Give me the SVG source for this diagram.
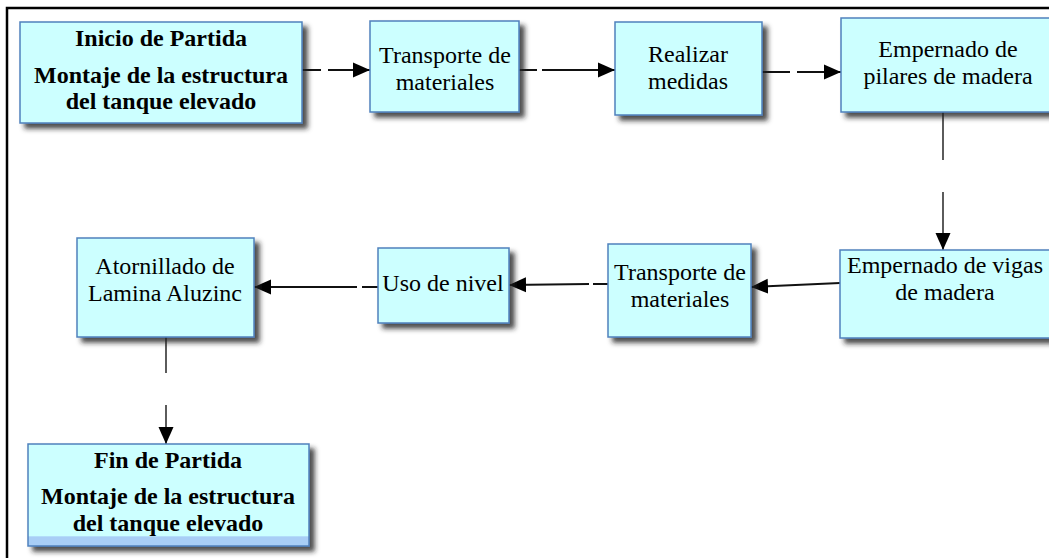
<svg xmlns="http://www.w3.org/2000/svg" width="1049" height="558" viewBox="0 0 1049 558">
<style>
.box{fill:#ccffff;stroke:#4f81bd;stroke-width:1.5;filter:url(#sh)}
.t{font-size:24px;fill:#000;text-anchor:middle}
.b{font-weight:bold}
.c{stroke:#111;stroke-width:2;fill:none}
.v{stroke:#333;stroke-width:1.6;fill:none}
</style>
<defs>
<filter id="sh" x="-10%" y="-10%" width="125%" height="130%">
<feDropShadow dx="5" dy="5" stdDeviation="2.5" flood-color="#222" flood-opacity="0.8"/>
</filter>
<marker id="ah" markerUnits="userSpaceOnUse" markerWidth="18" markerHeight="18" viewBox="0 0 18 18" refX="17" refY="9" orient="auto">
<path d="M0,1.5 L17,9 L0,16.5 Z" fill="#000"/>
</marker>
<linearGradient id="gb" x1="0" y1="0" x2="0" y2="1">
<stop offset="0" stop-color="#ccffff"/>
<stop offset="0.9" stop-color="#ccffff"/>
<stop offset="0.91" stop-color="#a8cef6"/>
<stop offset="1" stop-color="#a8cef6"/>
</linearGradient>
</defs>
<rect x="0" y="0" width="1049" height="558" fill="#fff"/>
<g id="frame" stroke="#000" stroke-width="2.5" fill="none">
<path d="M7,558 L7,8 L1049,8"/>
</g>
<g id="connectors">
<path class="c" d="M302,70 L321,70"/>
<path class="c" d="M328,70 L370,70" marker-end="url(#ah)"/>
<path class="c" d="M519,70 L537,70"/>
<path class="c" d="M542,70 L615,70" marker-end="url(#ah)"/>
<path class="c" d="M762,72 L790,72"/>
<path class="c" d="M797,72 L841,72" marker-end="url(#ah)"/>
<path class="v" d="M943,112 L943,160"/>
<path class="v" d="M943,192 L943,250" marker-end="url(#ah)"/>
<path class="c" d="M840,283 L751,287" marker-end="url(#ah)"/>
<path class="c" d="M608,284 L593,284"/>
<path class="c" d="M589,284 L509,285" marker-end="url(#ah)"/>
<path class="c" d="M378,287 L362,287"/>
<path class="c" d="M357,287 L254,287" marker-end="url(#ah)"/>
<path class="v" d="M166,337 L166,373"/>
<path class="v" d="M166,405 L166,444" marker-end="url(#ah)"/>
</g>
<g font-family="'Liberation Serif', 'DejaVu Serif', 'Times New Roman', serif">
<g id="n1">
<rect class="box" x="20" y="22" width="282" height="101"/>
<text class="t b" x="161" y="46">Inicio de Partida</text>
<text class="t b" x="161" y="83">Montaje de la estructura</text>
<text class="t b" x="161" y="109">del tanque elevado</text>
</g>
<g id="n2">
<rect class="box" x="370" y="21" width="149" height="91"/>
<text class="t" x="445" y="63">Transporte de</text>
<text class="t" x="445" y="90">materiales</text>
</g>
<g id="n3">
<rect class="box" x="615" y="22" width="147" height="93"/>
<text class="t" x="688" y="62">Realizar</text>
<text class="t" x="688" y="89">medidas</text>
</g>
<g id="n4">
<rect class="box" x="841" y="18" width="215" height="94"/>
<text class="t" x="948" y="57">Empernado de</text>
<text class="t" x="948" y="84">pilares de madera</text>
</g>
<g id="n5">
<rect class="box" x="840" y="250" width="216" height="88"/>
<text class="t" x="945" y="273">Empernado de vigas</text>
<text class="t" x="945" y="300">de madera</text>
</g>
<g id="n6">
<rect class="box" x="608" y="244" width="143" height="93"/>
<text class="t" x="680" y="280">Transporte de</text>
<text class="t" x="680" y="307">materiales</text>
</g>
<g id="n7">
<rect class="box" x="378" y="248" width="131" height="75"/>
<text class="t" x="443" y="291">Uso de nivel</text>
</g>
<g id="n8">
<rect class="box" x="77" y="238" width="177" height="99"/>
<text class="t" x="165" y="274">Atornillado de</text>
<text class="t" x="165" y="301">Lamina Aluzinc</text>
</g>
<g id="n9">
<rect class="box" x="28" y="444" width="281" height="102" style="fill:url(#gb)"/>
<text class="t b" x="168" y="468">Fin de Partida</text>
<text class="t b" x="168" y="504">Montaje de la estructura</text>
<text class="t b" x="168" y="531">del tanque elevado</text>
</g>
</g>
</svg>
